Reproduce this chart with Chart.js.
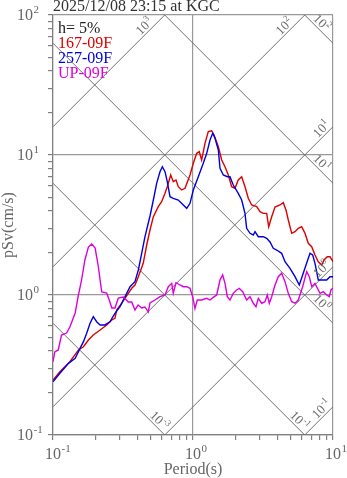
<!DOCTYPE html>
<html>
<head>
<meta charset="utf-8">
<script src="https://cdn.jsdelivr.net/npm/chart.js@4.4.1/dist/chart.umd.min.js"></script>
<style>
  body { margin: 0; background: #fff; }
  canvas { display: block; }
</style>
</head>
<body>
<canvas id="chart" width="347" height="478"></canvas>
<script>
const titleText = '2025/12/08 23:15 at KGC';
const dampingText = 'h= 5%';
const seriesNames = ['167-09F', '257-09F', 'UP-09F'];

// period (s) and pSv (cm/s)
const redPeriod = [0.1, 0.112, 0.132, 0.152, 0.165, 0.179, 0.194, 0.217, 0.242, 0.263, 0.277, 0.285, 0.309, 0.345, 0.365, 0.385, 0.407, 0.441, 0.467, 0.493, 0.521, 0.565, 0.597, 0.631, 0.655, 0.693, 0.723, 0.756, 0.785, 0.83, 0.877, 0.952, 1.005, 1.063, 1.109, 1.153, 1.218, 1.286, 1.359, 1.413, 1.517, 1.603, 1.693, 1.787, 1.889, 1.995, 2.106, 2.227, 2.352, 2.483, 2.625, 2.851, 3.01, 3.178, 3.36, 3.472, 3.648, 3.852, 4.182, 4.414, 4.616, 4.794, 5.07, 5.353, 5.651, 5.974, 6.31, 6.66, 7.045, 7.437, 7.85, 8.3, 8.624, 9.106, 9.519, 10];
const redSv = [0.247, 0.283, 0.334, 0.405, 0.427, 0.477, 0.518, 0.562, 0.611, 0.663, 0.681, 0.781, 0.872, 1.028, 1.117, 1.179, 1.351, 1.684, 2.276, 2.912, 3.625, 4.273, 4.639, 5.325, 5.935, 7.197, 6.446, 6.629, 5.935, 5.623, 5.781, 7.197, 8.722, 10.28, 10.56, 9.211, 12.11, 14.68, 14.91, 13.9, 11.46, 9.211, 8.25, 7.197, 5.935, 5.781, 6.629, 6.998, 5.935, 4.905, 4.394, 4.273, 3.934, 3.831, 3.831, 3.074, 3.625, 4.252, 4.394, 4.563, 4.047, 3.433, 2.758, 2.832, 2.994, 3.074, 2.758, 2.34, 2.212, 1.93, 1.729, 1.638, 1.778, 1.877, 1.877, 1.729];

const bluePeriod = [0.1, 0.112, 0.129, 0.144, 0.156, 0.165, 0.174, 0.184, 0.194, 0.205, 0.217, 0.235, 0.255, 0.277, 0.301, 0.327, 0.355, 0.385, 0.407, 0.43, 0.454, 0.493, 0.521, 0.55, 0.581, 0.604, 0.631, 0.655, 0.685, 0.723, 0.785, 0.853, 0.902, 0.952, 1.005, 1.091, 1.184, 1.253, 1.323, 1.383, 1.437, 1.517, 1.559, 1.646, 1.758, 1.837, 1.939, 2.106, 2.227, 2.352, 2.417, 2.554, 2.696, 2.773, 2.927, 3.178, 3.36, 3.548, 3.745, 3.961, 4.298, 4.541, 4.93, 5.353, 5.744, 6.071, 6.415, 6.851, 7.161, 7.437, 7.85, 8.525, 9.016, 9.519, 10];
const blueSv = [0.24, 0.276, 0.325, 0.353, 0.416, 0.464, 0.533, 0.628, 0.7, 0.644, 0.611, 0.611, 0.644, 0.74, 0.826, 0.973, 1.146, 1.245, 1.509, 1.985, 2.609, 3.667, 4.771, 6.279, 7.598, 8.25, 7.598, 6.446, 5.037, 4.905, 4.771, 4.394, 4.16, 4.519, 5.623, 6.998, 8.722, 10.28, 12.8, 14.29, 13.16, 10.86, 8.035, 7.197, 6.998, 6.998, 6.105, 5.325, 4.771, 3.831, 2.994, 2.758, 2.683, 2.832, 2.609, 2.609, 2.541, 2.391, 2.154, 2.096, 1.985, 1.729, 1.552, 1.351, 1.179, 1.39, 1.638, 1.985, 1.93, 1.684, 1.28, 1.28, 1.28, 1.351, 1.351];

const upPeriod = [0.1, 0.103, 0.109, 0.115, 0.125, 0.132, 0.144, 0.151, 0.16, 0.169, 0.179, 0.189, 0.2, 0.211, 0.217, 0.223, 0.242, 0.255, 0.263, 0.277, 0.293, 0.318, 0.345, 0.365, 0.385, 0.405, 0.43, 0.454, 0.479, 0.493, 0.535, 0.581, 0.631, 0.666, 0.705, 0.723, 0.756, 0.808, 0.853, 0.902, 0.952, 0.995, 1.033, 1.073, 1.153, 1.253, 1.323, 1.418, 1.477, 1.559, 1.629, 1.693, 1.758, 1.837, 1.939, 2.051, 2.141, 2.265, 2.417, 2.554, 2.696, 2.818, 2.927, 3.094, 3.268, 3.394, 3.507, 3.648, 3.852, 4.067, 4.298, 4.541, 4.794, 5.07, 5.353, 5.651, 6.071, 6.487, 6.772, 7.045, 7.437, 7.85, 8.075, 8.525, 9.016, 9.408, 9.677, 10];
const upSv = [0.334, 0.392, 0.405, 0.518, 0.535, 0.591, 0.744, 0.968, 1.28, 1.778, 2.202, 2.314, 2.166, 1.585, 1.28, 1.051, 1.033, 0.891, 0.807, 0.807, 0.952, 0.968, 0.891, 0.891, 0.781, 0.848, 0.807, 0.821, 0.756, 0.877, 0.921, 0.973, 1.0, 1.146, 1.211, 1.028, 1.224, 1.179, 1.146, 1.146, 1.117, 0.973, 0.803, 0.921, 0.921, 0.947, 0.921, 0.973, 1.0, 1.28, 1.39, 1.211, 0.973, 0.921, 1.028, 1.086, 1.117, 1.056, 0.921, 0.973, 0.873, 0.826, 0.947, 0.873, 0.895, 1.0, 0.873, 0.973, 1.179, 1.351, 1.429, 1.245, 1.028, 0.895, 0.873, 0.921, 1.146, 1.468, 1.351, 1.146, 1.211, 1.086, 1.028, 1.056, 1.0, 0.973, 1.086, 1.122];

// tripartite guide lines: acceleration (gal) and displacement (cm)
const accelLevels = [1000, 100, 10, 1, 0.1];
const accelLabels = ['3', '2', '1', '0', '-1'];
const dispLevels = [100, 10, 1, 0.1, 0.01];
const dispLabels = ['2', '1', '0', '-1', '-3'];

const xTickValues = [0.1, 1, 10];
const yTickValues = [0.1, 1, 10, 100];

const seriesColors = ['#dd0000', '#0000dd', '#dd00dd'];
const FONT = '"Liberation Serif", "Times New Roman", serif';
const TWO_PI = 2 * Math.PI;

function toPoints(xs, ys) {
  return xs.map((x, i) => ({ x: x, y: ys[i] }));
}

function logTicks(min, max) {
  const out = [];
  for (let e = Math.round(Math.log10(min)); e <= Math.round(Math.log10(max)); e++) {
    for (let m = 1; m <= 9; m++) {
      const v = Number((m * Math.pow(10, e)).toPrecision(6));
      if (v >= min && v <= max) out.push(v);
    }
  }
  return out;
}

function isDecade(v) {
  const l = Math.log10(v);
  return Math.abs(l - Math.round(l)) < 1e-6;
}

function powLabel(c, exp, x, y, size, mode) {
  const es = Math.round(size * 0.7);
  c.font = size + 'px ' + FONT;
  const wb = c.measureText('10').width;
  c.font = es + 'px ' + FONT;
  const we = c.measureText(exp).width;
  let x0 = x;
  if (mode === 'under') x0 = x - wb / 2;
  if (mode === 'center') x0 = x - (wb + we) / 2;
  c.textAlign = 'left';
  c.textBaseline = 'alphabetic';
  c.font = size + 'px ' + FONT;
  c.fillText('10', x0, y);
  c.font = es + 'px ' + FONT;
  c.fillText(exp, x0 + wb + 0.5, y - size * 0.42);
}

function lineLabel(c, chart, kind, level, exp) {
  const area = chart.chartArea;
  const ys = chart.scales.y;
  const s = kind === 'acc' ? -1 : 1;
  const yR = ys.getPixelForValue(kind === 'acc' ? level * 10 / TWO_PI : TWO_PI * level / 10);
  let ex = area.right, ey = yR;
  let back = kind === 'acc' ? 7 : 16;
  if (yR < area.top) { ex = area.right - (area.top - yR); ey = area.top; back = 16; }
  if (yR > area.bottom) { ex = area.right - (yR - area.bottom); ey = area.bottom; back = 10; }
  const fx = ex - back, fy = ey - s * back;
  const d = 6.5 / Math.SQRT2;
  const cx = fx + (kind === 'acc' ? -d : d), cy = fy - d;
  c.save();
  c.translate(cx, cy);
  c.rotate(s * Math.PI / 4);
  powLabel(c, exp, 0, 4, 13, 'center');
  c.restore();
}

const textPlugin = {
  id: 'texts',
  afterDraw(chart) {
    const c = chart.ctx;
    const xs = chart.scales.x, ys = chart.scales.y;
    const area = chart.chartArea;
    c.save();
    c.fillStyle = '#666';
    xTickValues.forEach(v => powLabel(c, String(Math.round(Math.log10(v))), xs.getPixelForValue(v), 459, 16, 'under'));
    yTickValues.forEach(v => powLabel(c, String(Math.round(Math.log10(v))), 17, ys.getPixelForValue(v) + 5, 16, 'left'));

    c.fillStyle = '#6a6a6a';
    accelLevels.forEach((a, i) => lineLabel(c, chart, 'acc', a, accelLabels[i]));
    dispLevels.forEach((d, i) => lineLabel(c, chart, 'disp', d, dispLabels[i]));

    c.fillStyle = '#666';
    c.font = '16px ' + FONT;
    c.textAlign = 'center';
    c.textBaseline = 'alphabetic';
    c.fillText('Period(s)', (area.left + area.right) / 2, 474);
    c.save();
    c.translate(9, (area.top + area.bottom) / 2);
    c.rotate(-Math.PI / 2);
    c.textBaseline = 'middle';
    c.fillText('pSv(cm/s)', 0, 0);
    c.restore();

    c.textAlign = 'left';
    c.fillStyle = '#333';
    c.fillText(titleText, area.left, 11);
    c.fillStyle = '#222';
    c.fillText(dampingText, area.left + 5, 33);
    seriesNames.forEach((n, i) => {
      c.fillStyle = seriesColors[i];
      c.fillText(n, area.left + 5, 48 + i * 15);
    });
    c.restore();
  }
};

const guideSets = [];
accelLevels.forEach(a => guideSets.push({
  data: [{ x: 0.1, y: a * 0.1 / TWO_PI }, { x: 10, y: a * 10 / TWO_PI }],
  borderColor: '#707070', borderWidth: 1, pointRadius: 0, order: 5
}));
dispLevels.forEach(d => guideSets.push({
  data: [{ x: 0.1, y: TWO_PI * d / 0.1 }, { x: 10, y: TWO_PI * d / 10 }],
  borderColor: '#707070', borderWidth: 1, pointRadius: 0, order: 5
}));

const spectra = [
  { label: seriesNames[0], data: toPoints(redPeriod, redSv), order: 2 },
  { label: seriesNames[1], data: toPoints(bluePeriod, blueSv), order: 1 },
  { label: seriesNames[2], data: toPoints(upPeriod, upSv), order: 0 }
].map((s, i) => Object.assign(s, {
  borderColor: seriesColors[i], borderWidth: 1.4, pointRadius: 0, tension: 0, fill: false
}));

const axisGrid = {
  color: c => (c.tick && isDecade(c.tick.value)) ? '#999' : 'rgba(0,0,0,0)',
  lineWidth: 1.2,
  tickColor: '#808080',
  tickLength: 5
};

new Chart(document.getElementById('chart').getContext('2d'), {
  type: 'line',
  data: { datasets: guideSets.concat(spectra) },
  plugins: [textPlugin],
  options: {
    responsive: false,
    animation: false,
    devicePixelRatio: 1,
    layout: { padding: { left: 0, right: 14, top: 15, bottom: 0 } },
    scales: {
      x: {
        type: 'logarithmic', min: 0.1, max: 10,
        afterBuildTicks: s => { s.ticks = logTicks(0.1, 10).map(v => ({ value: v })); },
        afterFit: s => { s.height = 43; },
        ticks: { display: false },
        grid: axisGrid,
        border: { color: '#808080', width: 1.2 }
      },
      y: {
        type: 'logarithmic', min: 0.1, max: 100,
        afterBuildTicks: s => { s.ticks = logTicks(0.1, 100).map(v => ({ value: v })); },
        afterFit: s => { s.width = 53; },
        ticks: { display: false },
        grid: axisGrid,
        border: { color: '#808080', width: 1.2 }
      }
    },
    plugins: {
      legend: { display: false },
      tooltip: { enabled: false }
    }
  }
});
</script>
</body>
</html>
